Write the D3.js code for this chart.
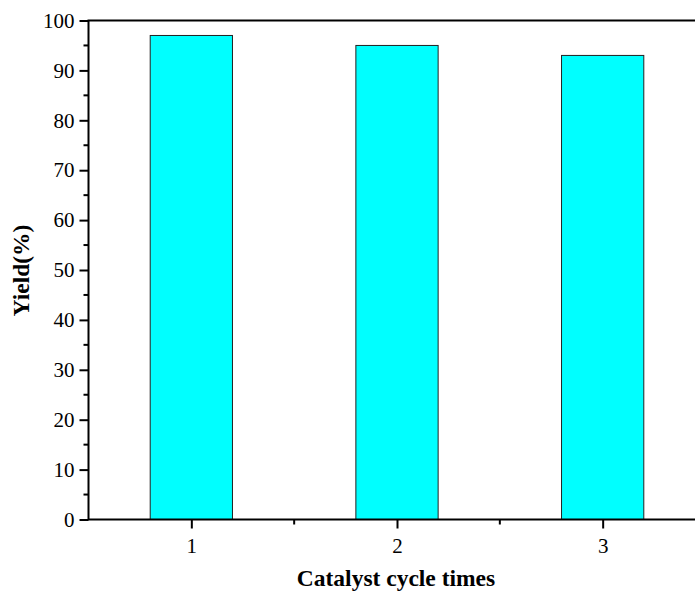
<!DOCTYPE html>
<html>
<head>
<meta charset="utf-8">
<script src="https://cdn.jsdelivr.net/npm/d3@7"></script>
<style>
  body { margin: 0; background: #fff; }
  svg { display: block; }
</style>
</head>
<body>
<div id="container"></div>
<script>
// ------ Data ------
const cycles = [1, 2, 3];
const yields = [97, 95, 93];
const yTicks = [0, 10, 20, 30, 40, 50, 60, 70, 80, 90, 100];
const yMinor = [5, 15, 25, 35, 45, 55, 65, 75, 85, 95];
const xMinor = [1.5, 2.5];

// ------ Global Values ------
const width = 695,
  height = 594;

const plotL = 88.5, plotR = 705.5, plotT = 20.5, plotB = 519.5;

const svg = d3.select('#container').append('svg')
  .attr('width', width)
  .attr('height', height);

const x = d3.scaleLinear().domain([0.5, 3.5]).range([plotL, plotR]);
const y = d3.scaleLinear().domain([0, 100]).range([plotB, plotT]);

// bars
svg.append('g').selectAll('rect').data(cycles)
  .enter().append('rect')
  .attr('x', d => x(d - 0.2))
  .attr('y', (d, i) => y(yields[i]))
  .attr('width', d => x(d + 0.2) - x(d - 0.2))
  .attr('height', (d, i) => y(0) - y(yields[i]))
  .style('fill', '#00ffff')
  .style('stroke', '#222')
  .style('stroke-width', 1);

// frame (top line, right side falls off canvas)
svg.append('rect')
  .attr('x', plotL).attr('y', plotT)
  .attr('width', plotR - plotL).attr('height', plotB - plotT)
  .style('fill', 'none').style('stroke', '#000').style('stroke-width', 2);

// y axis
const yAxis = svg.append('g')
  .attr('transform', `translate(${plotL},0)`)
  .call(d3.axisLeft(y).tickValues(yTicks).tickSize(9).tickPadding(5).tickFormat(d3.format('d')));
yAxis.select('.domain').remove();
yAxis.selectAll('line').style('stroke-width', 2);
yAxis.selectAll('text').style('font-family', '"Liberation Serif", serif').style('font-size', '21px').style('fill', '#000');

svg.append('g').selectAll('line').data(yMinor)
  .enter().append('line')
  .attr('x1', plotL - 5).attr('x2', plotL)
  .attr('y1', d => y(d)).attr('y2', d => y(d))
  .style('stroke', '#000').style('stroke-width', 2);

// x axis
const xAxis = svg.append('g')
  .attr('transform', `translate(0,${plotB})`)
  .call(d3.axisBottom(x).tickValues(cycles).tickSize(9).tickPadding(10).tickFormat(d3.format('d')));
xAxis.select('.domain').remove();
xAxis.selectAll('line').style('stroke-width', 2);
xAxis.selectAll('text').style('font-family', '"Liberation Serif", serif').style('font-size', '21px').style('fill', '#000');

svg.append('g').selectAll('line').data(xMinor)
  .enter().append('line')
  .attr('x1', d => x(d)).attr('x2', d => x(d))
  .attr('y1', plotB).attr('y2', plotB + 5)
  .style('stroke', '#000').style('stroke-width', 2);

// titles
svg.append('text')
  .attr('x', 396).attr('y', 586)
  .attr('text-anchor', 'middle')
  .style('font-family', '"Liberation Serif", serif')
  .style('font-weight', 'bold')
  .style('font-size', '23.5px')
  .text('Catalyst cycle times');

svg.append('text')
  .attr('transform', 'translate(29,270.5) rotate(-90)')
  .attr('text-anchor', 'middle')
  .style('font-family', '"Liberation Serif", serif')
  .style('font-weight', 'bold')
  .style('font-size', '23.5px')
  .text('Yield(%)');
</script>
</body>
</html>
